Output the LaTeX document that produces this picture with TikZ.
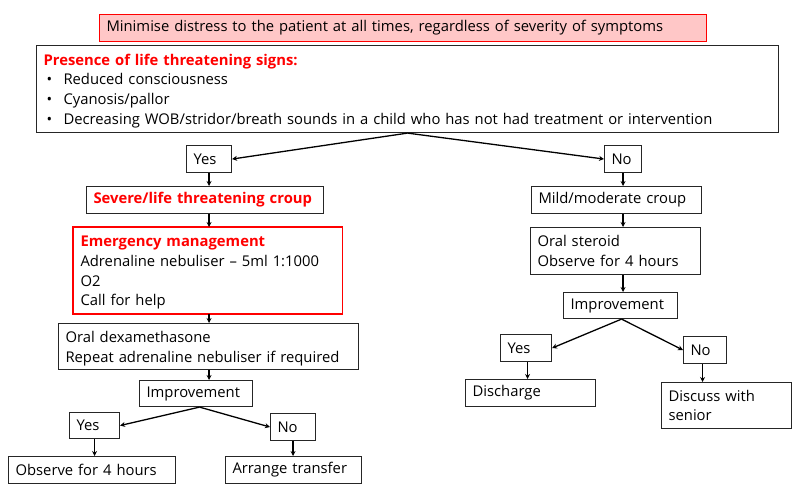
\documentclass[tikz,border=0pt]{standalone}
\usepackage{fontspec}
\setmainfont{Open Sans}
\usetikzlibrary{arrows.meta}
\definecolor{bannerfill}{HTML}{FFC7C7}
\definecolor{alertred}{HTML}{FF0000}
\definecolor{boxline}{HTML}{262626}
\newcommand\topstrut{\rule{0pt}{15pt}}
\newcommand\bul{\hspace*{3pt}\makebox[17pt][l]{•}}
\begin{document}
\begin{tikzpicture}[x=1pt,y=-1pt,
  font=\fontsize{14.8}{19.7}\selectfont,
  box/.style={draw=boxline, line width=1.1pt, inner xsep=7pt, inner ysep=0pt,
    align=left, anchor=north west},
  alertline/.style={draw=alertred, line width=1.2pt},
  conn/.style={draw=black, line width=1.3pt, -{Stealth[length=5pt,width=5pt]}}]
\useasboundingbox (0,0) rectangle (796,489);
% banner
\node[box, draw=alertred, fill=bannerfill, text width=593pt, minimum height=27pt] (banner) at (99,14)
  {Minimise distress to the patient at all times, regardless of severity of symptoms};
% big box
\node[box, text width=728pt, minimum height=87pt] (big) at (36,45)
  {\topstrut{\bfseries\color{alertred}Presence of life threatening signs:}\\
   \bul Reduced consciousness\\
   \bul Cyanosis/pallor\\
   \bul Decreasing WOB/stridor/breath sounds in a child who has not had treatment or intervention};
% left branch
\node[box, text width=31pt, minimum height=27pt] (yes1) at (186,145) {Yes};
\node[box, text width=23pt, minimum height=27pt] (no1) at (604,145) {No};
\node[box, text width=223pt, minimum height=27pt] (severe) at (86,186)
  {{\bfseries\color{alertred}Severe/life threatening croup}};
\node[box, draw=none, text width=254pt, minimum height=86pt] (emerg) at (73,227)
  {\topstrut{\bfseries\color{alertred}Emergency management}\\
   Adrenaline nebuliser – 5ml 1:1000\\
   O2\\
   Call for help};
\draw[alertline] (emerg.north west) rectangle (emerg.south east);
\node[box, text width=286pt, minimum height=46pt] (oraldex) at (58,323)
  {\topstrut Oral dexamethasone\\Repeat adrenaline nebuliser if required};
\node[box, text width=99pt, minimum height=26pt] (imp1) at (139,380) {Improvement};
\node[box, text width=36pt, minimum height=26pt] (yes2) at (69,412) {Yes};
\node[box, text width=31pt, minimum height=27pt] (no2) at (270,413) {No};
\node[box, text width=153pt, minimum height=27pt] (obs) at (8,456) {Observe for 4 hours};
\node[box, text width=122pt, minimum height=27pt] (arr) at (225,456) {Arrange transfer};
% right branch
\node[box, text width=156pt, minimum height=27pt] (mild) at (531,186) {Mild/moderate croup};
\node[box, text width=156pt, minimum height=47pt] (oralst) at (530,227) {Oral steroid\\Observe for 4 hours};
\node[box, text width=100pt, minimum height=26pt] (imp2) at (563,292) {Improvement};
\node[box, text width=37pt, minimum height=27pt] (yes3) at (500,334) {Yes};
\node[box, text width=29pt, minimum height=27pt] (no3) at (683,336) {No};
\node[box, text width=116pt, minimum height=27pt] (disch) at (465,379) {Discharge};
\node[box, text width=116pt, minimum height=46pt] (discuss) at (661,382) {Discuss with\\senior};
% connectors
\draw[conn] (big.south) -- (yes1.east);
\draw[conn] (big.south) -- (no1.west);
\draw[conn] (yes1.south) -- (yes1.south |- severe.north);
\draw[conn] (yes1.south |- severe.south) -- (yes1.south |- emerg.north);
\draw[conn] (yes1.south |- emerg.south) -- (yes1.south |- oraldex.north);
\draw[conn] (yes1.south |- oraldex.south) -- (yes1.south |- imp1.north);
\coordinate (imp1b) at ([xshift=3.5pt]imp1.south);
\draw[conn] (imp1b) -- (yes2.east);
\draw[conn] (imp1b) -- (no2.west);
\draw[conn] (yes2.south) -- (yes2.south |- obs.north);
\draw[conn] (no2.south) -- (no2.south |- arr.north);
\draw[conn] (no1.south) -- (no1.south |- mild.north);
\draw[conn] (no1.south |- mild.south) -- (no1.south |- oralst.north);
\draw[conn] (no1.south |- oralst.south) -- (no1.south |- imp2.north);
\coordinate (imp2b) at ([xshift=1pt]imp2.south);
\draw[conn] (imp2b) -- (yes3.east);
\draw[conn] (imp2b) -- (no3.west);
\draw[conn] ([xshift=1.5pt]yes3.south) -- ([xshift=1.5pt]yes3.south |- disch.north);
\draw[conn] ([xshift=-2.5pt]no3.south) -- ([xshift=-2.5pt]no3.south |- discuss.north);
\end{tikzpicture}
\end{document}
